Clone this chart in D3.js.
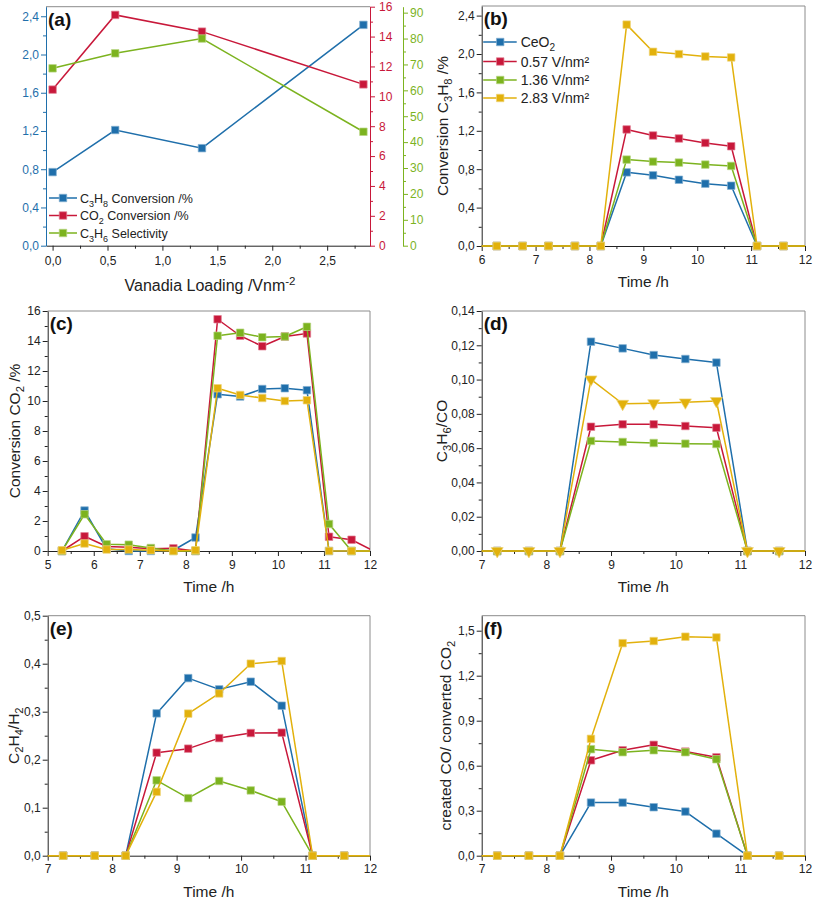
<!DOCTYPE html>
<html><head><meta charset="utf-8">
<script src="https://cdn.jsdelivr.net/npm/d3@7"></script>
<style>body{margin:0;background:#fff;} svg{display:block;}</style>
</head><body><svg id="c" width="813" height="899"></svg>
<script>
// ---------------- DATA ----------------
// panel (a)
const loading = [0, 0.57, 1.36, 2.83];
const c3h8Conv = [0.77, 1.21, 1.02, 2.31];
const co2Conv = [10.45, 15.45, 14.33, 10.8];
const c3h6Sel = [68.5, 74.3, 80.0, 44.0];

// shared time axis for (b)-(f)
const timeH = [5.31, 5.80, 6.28, 6.76, 7.24, 7.73, 8.21, 8.69, 9.18, 9.66, 10.15, 10.63, 11.11, 11.60, 12.08];
const seriesLabels = ["CeO2", "0.57 V/nm²", "1.36 V/nm²", "2.83 V/nm²"];

// (b) Conversion C3H8 /%
const bCeO2 = [0,0,0,0,0,0,0, 0.767,0.736,0.690,0.649,0.628, 0,0,0];
const bV057 = [0,0,0,0,0,0,0, 1.214,1.151,1.120,1.074,1.039, 0,0,0];
const bV136 = [0,0,0,0,0,0,0, 0.900,0.879,0.869,0.848,0.834, 0,0,0];
const bV283 = [0,0,0,0,0,0,0, 2.306,2.023,1.999,1.974,1.964, 0,0,0];

// (c) Conversion CO2 /%
const cCeO2 = [0, 2.70, 0.15, 0, 0, 0.05, 0.90, 10.45,10.30,10.80,10.85,10.72, 0, 0, 0];
const cV057 = [0, 0.98, 0.30, 0.25, 0.15, 0.18, 0, 15.45,14.35,13.65,14.30,14.50, 0.95, 0.75, 0];
const cV136 = [0, 2.45, 0.45, 0.42, 0.20, 0, 0, 14.35,14.55,14.25,14.30,14.95, 1.80, 0, 0];
const cV283 = [0.05, 0.50, 0.10, 0.10, 0.05, 0, 0.05, 10.85,10.40,10.20,10.00,10.05, 0, 0, 0];

// (d) C3H6/CO
const dCeO2 = [0,0,0,0,0,0,0, 0.1221,0.1182,0.1143,0.1120,0.1099, 0,0,0];
const dV057 = [0,0,0,0,0,0,0, 0.0725,0.0739,0.0739,0.0729,0.0719, 0,0,0];
const dV136 = [0,0,0,0,0,0,0, 0.0642,0.0636,0.0630,0.0626,0.0624, 0,0,0];
const dV283 = [0,0,0,0,0,0,0, 0.1001,0.0859,0.0862,0.0867,0.0875, 0,0,0];

// (e) C2H4/H2
const eCeO2 = [0,0,0,0,0,0,0, 0.2965,0.370,0.3465,0.3625,0.3125, 0,0,0];
const eV057 = [0,0,0,0,0,0,0, 0.2146,0.223,0.245,0.2556,0.2563, 0,0,0];
const eV136 = [0,0,0,0,0,0,0, 0.157,0.120,0.1556,0.136,0.1125, 0,0,0];
const eV283 = [0,0,0,0,0,0,0, 0.133,0.296,0.338,0.400,0.4056, 0,0,0];

// (f) created CO / converted CO2
const fCeO2 = [0,0,0,0,0,0,0, 0.354,0.354,0.323,0.294,0.147, 0,0,0];
const fV057 = [0,0,0,0,0,0,0, 0.636,0.703,0.739,0.694,0.656, 0,0,0];
const fV136 = [0,0,0,0,0,0,0, 0.710,0.690,0.703,0.690,0.643, 0,0,0];
const fV283 = [0,0,0,0,0,0,0, 0.779,1.417,1.431,1.460,1.455, 0,0,0];

// tick values
const aXTicks = [0, 0.5, 1.0, 1.5, 2.0, 2.5];
const aXMinor = [0.25, 0.75, 1.25, 1.75, 2.25, 2.75];
const aLeftTicks = [0, 0.4, 0.8, 1.2, 1.6, 2.0, 2.4];
const aLeftMinor = [0.2, 0.6, 1.0, 1.4, 1.8, 2.2];
const aRedTicks = [0, 2, 4, 6, 8, 10, 12, 14, 16];
const aRedMinor = [1, 3, 5, 7, 9, 11, 13, 15];
const aGreenTicks = [0, 10, 20, 30, 40, 50, 60, 70, 80, 90];
const aGreenMinor = [5, 15, 25, 35, 45, 55, 65, 75, 85];
const timeTicks6 = [6, 7, 8, 9, 10, 11, 12];
const timeTicks5 = [5, 6, 7, 8, 9, 10, 11, 12];
const timeTicks7 = [7, 8, 9, 10, 11, 12];
const timeMinor = [5.5, 6.5, 7.5, 8.5, 9.5, 10.5, 11.5];
const bYTicks = [0, 0.4, 0.8, 1.2, 1.6, 2.0, 2.4];
const bYMinor = [0.2, 0.6, 1.0, 1.4, 1.8, 2.2];
const cYTicks = [0, 2, 4, 6, 8, 10, 12, 14, 16];
const cYMinor = [1, 3, 5, 7, 9, 11, 13, 15];
const dYTicks = [0, 0.02, 0.04, 0.06, 0.08, 0.10, 0.12, 0.14];
const dYMinor = [0.01, 0.03, 0.05, 0.07, 0.09, 0.11, 0.13];
const eYTicks = [0, 0.1, 0.2, 0.3, 0.4, 0.5];
const eYMinor = [0.05, 0.15, 0.25, 0.35, 0.45];
const fYTicks = [0, 0.3, 0.6, 0.9, 1.2, 1.5];
const fYMinor = [0.15, 0.45, 0.75, 1.05, 1.35];

// ---------------- STYLE ----------------
const FONT = '"Liberation Sans", Arial, Helvetica, sans-serif';
const COLORS = ["#1f6fab", "#c8183a", "#7cb31f", "#e2b10c"];
const AXIS = "#222";
const FRAME = "#8c8c8c";
const TICKFS = 12, TITLEFS = 15.5, LABELFS = 19;
const loc = d3.formatLocale({decimal: ",", thousands: ".", grouping: [3], currency: ["", ""]});
const f0 = loc.format("d"), f1 = loc.format(".1f"), f2 = loc.format(".2f");

const svg = d3.select("#c");

function styleAxis(sel, color) {
  sel.attr("font-family", FONT).attr("font-size", TICKFS);
  sel.selectAll("line, path").attr("stroke", color).attr("stroke-width", 1);
  sel.selectAll("text").attr("fill", color);
}

function richText(sel, parts, fs) {
  // parts: [text, mode] mode 0 normal, 1 subscript, 2 superscript
  let shift = 0;
  parts.forEach(([t, m]) => {
    const target = m === 1 ? 4 : m === 2 ? -6 : 0;
    sel.append("tspan")
      .attr("dy", target - shift)
      .attr("font-size", m ? fs * 0.72 : fs)
      .text(t);
    shift = target;
  });
}

function marker(g, type, size, color, cx, cy) {
  const sym = type === "tri" ? d3.symbolTriangle : d3.symbolSquare;
  g.append("path")
    .attr("d", d3.symbol(sym, size)())
    .attr("transform", `translate(${cx},${cy})` + (type === "tri" ? " rotate(180)" : ""))
    .attr("fill", color)
    .attr("stroke", d3.interpolateRgb(color, "#fff")(0.45))
    .attr("stroke-width", 0.7);
}

let clipN = 0;
function timePanel(p) {
  const g = svg.append("g");
  const x = d3.scaleLinear().domain(p.xDomain).range([p.left, p.right]);
  const y = d3.scaleLinear().domain(p.yDomain).range([p.bottom, p.top]);

  // top / right frame
  g.append("line").attr("x1", p.left).attr("x2", p.right).attr("y1", p.top).attr("y2", p.top)
    .attr("stroke", FRAME).attr("stroke-width", 1);
  g.append("line").attr("x1", p.right).attr("x2", p.right).attr("y1", p.top).attr("y2", p.bottom)
    .attr("stroke", FRAME).attr("stroke-width", 1);

  // minor ticks
  const xm = g.append("g").attr("transform", `translate(0,${p.bottom})`)
    .call(d3.axisBottom(x).tickValues(timeMinor.filter(v => v > p.xDomain[0] && v < p.xDomain[1])).tickSize(3).tickFormat("").tickSizeOuter(0));
  xm.select(".domain").remove(); styleAxis(xm, AXIS);
  const ym = g.append("g").attr("transform", `translate(${p.left},0)`)
    .call(d3.axisLeft(y).tickValues(p.yMinor).tickSize(3).tickFormat("").tickSizeOuter(0));
  ym.select(".domain").remove(); styleAxis(ym, AXIS);

  // major axes
  const xa = g.append("g").attr("transform", `translate(0,${p.bottom})`)
    .call(d3.axisBottom(x).tickValues(p.xTicks).tickSize(5).tickPadding(4).tickFormat(f0).tickSizeOuter(0));
  styleAxis(xa, AXIS);
  const ya = g.append("g").attr("transform", `translate(${p.left},0)`)
    .call(d3.axisLeft(y).tickValues(p.yTicks).tickSize(5).tickPadding(2).tickFormat(p.yFmt).tickSizeOuter(0));
  styleAxis(ya, AXIS);

  // titles
  const xt = g.append("text").attr("x", (p.left + p.right) / 2).attr("y", p.bottom + 41)
    .attr("text-anchor", "middle").attr("font-family", FONT).attr("font-size", TITLEFS).attr("fill", AXIS);
  richText(xt, [["Time /h", 0]], TITLEFS);
  const yt = g.append("text")
    .attr("transform", `translate(${p.yTitleX + 5.5},${(p.top + p.bottom) / 2}) rotate(-90)`)
    .attr("text-anchor", "middle").attr("font-family", FONT).attr("font-size", TITLEFS).attr("fill", AXIS);
  richText(yt, p.yTitle, TITLEFS);
  g.append("text").attr("x", p.left + 2).attr("y", p.top + 19)
    .attr("font-family", FONT).attr("font-size", LABELFS).attr("font-weight", "bold").attr("fill", "#111")
    .text(p.label);

  // clip
  const id = "clip" + (clipN++);
  svg.append("clipPath").attr("id", id).append("rect")
    .attr("x", p.left).attr("y", p.top - 30).attr("width", p.right - p.left).attr("height", p.bottom - p.top + 60);
  const marks = g.append("g");
  const line = d3.line().x(d => x(d[0])).y(d => y(d[1]));
  p.series.forEach((vals, i) => {
    const pts = timeH.map((t, k) => [t, vals[k]]);
    marks.append("path").attr("d", line(pts)).attr("clip-path", `url(#${id})`)
      .attr("fill", "none").attr("stroke", COLORS[i]).attr("stroke-width", 1.5).attr("stroke-linejoin", "round");
    pts.filter(d => d[0] >= p.xDomain[0] && d[0] <= p.xDomain[1]).forEach(d => {
      marker(marks, (p.triIndex === i) ? "tri" : "sq", (p.triIndex === i) ? 62 : 56, COLORS[i], x(d[0]), y(d[1]));
    });
  });

  // legend
  if (p.legend) {
    const rows = [42, 61.5, 80, 98];
    seriesLabels.forEach((lab, i) => {
      const lg = g.append("g");
      lg.append("line").attr("x1", p.left + 1.5).attr("x2", p.left + 35).attr("y1", rows[i]).attr("y2", rows[i])
        .attr("stroke", COLORS[i]).attr("stroke-width", 1.5);
      marker(lg, "sq", 56, COLORS[i], p.left + 18.5, rows[i]);
      const t = lg.append("text").attr("x", p.left + 39).attr("y", rows[i] + 5)
        .attr("font-family", FONT).attr("font-size", 14).attr("fill", AXIS);
      if (i === 0) richText(t, [["CeO", 0], ["2", 1]], 14); else t.text(lab);
    });
  }
}

// ---------------- PANEL (a) ----------------
(function () {
  const L = 46, R = 370, T = 6.7, B = 245.7, G = 403;
  const g = svg.append("g");
  const x = d3.scaleLinear().domain([-0.06, 2.89]).range([L, R]);
  const yL = d3.scaleLinear().domain([0, 2.5]).range([B, T]);
  const yR = d3.scaleLinear().domain([0, 16]).range([B, T]);
  const yG = d3.scaleLinear().domain([0, 92.3]).range([B, T]);

  g.append("line").attr("x1", L).attr("x2", R).attr("y1", T).attr("y2", T).attr("stroke", FRAME);

  function ax(make, tr, ticks, minor, fmt, color, pad) {
    const m = g.append("g").attr("transform", tr).call(make().tickValues(minor).tickSize(3).tickFormat("").tickSizeOuter(0));
    m.select(".domain").remove(); styleAxis(m, color);
    const a = g.append("g").attr("transform", tr).call(make().tickValues(ticks).tickSize(5).tickPadding(pad).tickFormat(fmt).tickSizeOuter(0));
    styleAxis(a, color);
  }
  ax(() => d3.axisBottom(x), `translate(0,${B})`, aXTicks, aXMinor, f1, AXIS, 6);
  ax(() => d3.axisLeft(yL), `translate(${L},0)`, aLeftTicks, aLeftMinor, f1, COLORS[0], 2);
  ax(() => d3.axisRight(yR), `translate(${R},0)`, aRedTicks, aRedMinor, f0, COLORS[1], 4);
  ax(() => d3.axisRight(yG), `translate(${G},0)`, aGreenTicks, aGreenMinor, f0, COLORS[2], 2);

  const xt = g.append("text").attr("x", 210).attr("y", B + 45).attr("text-anchor", "middle")
    .attr("font-family", FONT).attr("font-size", 16).attr("fill", AXIS);
  richText(xt, [["Vanadia Loading /Vnm", 0], ["-2", 2]], 16);
  g.append("text").attr("x", L + 2).attr("y", T + 19).attr("font-family", FONT).attr("font-size", LABELFS)
    .attr("font-weight", "bold").attr("fill", "#111").text("(a)");

  const sets = [[c3h8Conv, yL], [co2Conv, yR], [c3h6Sel, yG]];
  sets.forEach(([vals, ys], i) => {
    const pts = loading.map((v, k) => [v, vals[k]]);
    g.append("path").attr("d", d3.line().x(d => x(d[0])).y(d => ys(d[1]))(pts))
      .attr("fill", "none").attr("stroke", COLORS[i]).attr("stroke-width", 1.5);
    pts.forEach(d => marker(g, "sq", 56, COLORS[i], x(d[0]), ys(d[1])));
  });

  const legendParts = [
    [["C", 0], ["3", 1], ["H", 0], ["8", 1], [" Conversion /%", 0]],
    [["CO", 0], ["2", 1], [" Conversion /%", 0]],
    [["C", 0], ["3", 1], ["H", 0], ["6", 1], [" Selectivity", 0]]
  ];
  const rows = [198, 215.5, 233];
  legendParts.forEach((parts, i) => {
    g.append("line").attr("x1", 49).attr("x2", 77).attr("y1", rows[i]).attr("y2", rows[i])
      .attr("stroke", COLORS[i]).attr("stroke-width", 1.5);
    marker(g, "sq", 56, COLORS[i], 63, rows[i]);
    const t = g.append("text").attr("x", 80).attr("y", rows[i] + 4.5)
      .attr("font-family", FONT).attr("font-size", 12.5).attr("fill", AXIS);
    richText(t, parts, 12.5);
  });
})();

// ---------------- PANELS (b)-(f) ----------------
timePanel({left: 481.7, right: 805, top: 6, bottom: 246, xDomain: [6, 12], yDomain: [0, 2.5],
  xTicks: timeTicks6, yTicks: bYTicks, yMinor: bYMinor, yFmt: f1, label: "(b)", yTitleX: 442,
  yTitle: [["Conversion C", 0], ["3", 1], ["H", 0], ["8", 1], [" /%", 0]],
  series: [bCeO2, bV057, bV136, bV283], legend: true});
timePanel({left: 47.7, right: 370, top: 311, bottom: 551, xDomain: [5, 12], yDomain: [0, 16],
  xTicks: timeTicks5, yTicks: cYTicks, yMinor: cYMinor, yFmt: f0, label: "(c)", yTitleX: 14,
  yTitle: [["Conversion CO", 0], ["2", 1], [" /%", 0]],
  series: [cCeO2, cV057, cV136, cV283]});
timePanel({left: 481.7, right: 805, top: 311, bottom: 551, xDomain: [7, 12], yDomain: [0, 0.14],
  xTicks: timeTicks7, yTicks: dYTicks, yMinor: dYMinor, yFmt: f2, label: "(d)", yTitleX: 441,
  yTitle: [["C", 0], ["3", 1], ["H", 0], ["6", 1], ["/CO", 0]],
  series: [dCeO2, dV057, dV136, dV283], triIndex: 3});
timePanel({left: 47.7, right: 370, top: 615.7, bottom: 855.7, xDomain: [7, 12], yDomain: [0, 0.5],
  xTicks: timeTicks7, yTicks: eYTicks, yMinor: eYMinor, yFmt: f1, label: "(e)", yTitleX: 13,
  yTitle: [["C", 0], ["2", 1], ["H", 0], ["4", 1], ["/H", 0], ["2", 1]],
  series: [eCeO2, eV057, eV136, eV283]});
timePanel({left: 481.7, right: 805, top: 615.7, bottom: 855.7, xDomain: [7, 12], yDomain: [0, 1.6],
  xTicks: timeTicks7, yTicks: fYTicks, yMinor: fYMinor, yFmt: f1, label: "(f)", yTitleX: 445,
  yTitle: [["created CO/ converted CO", 0], ["2", 1]],
  series: [fCeO2, fV057, fV136, fV283]});
</script>
</body></html>
